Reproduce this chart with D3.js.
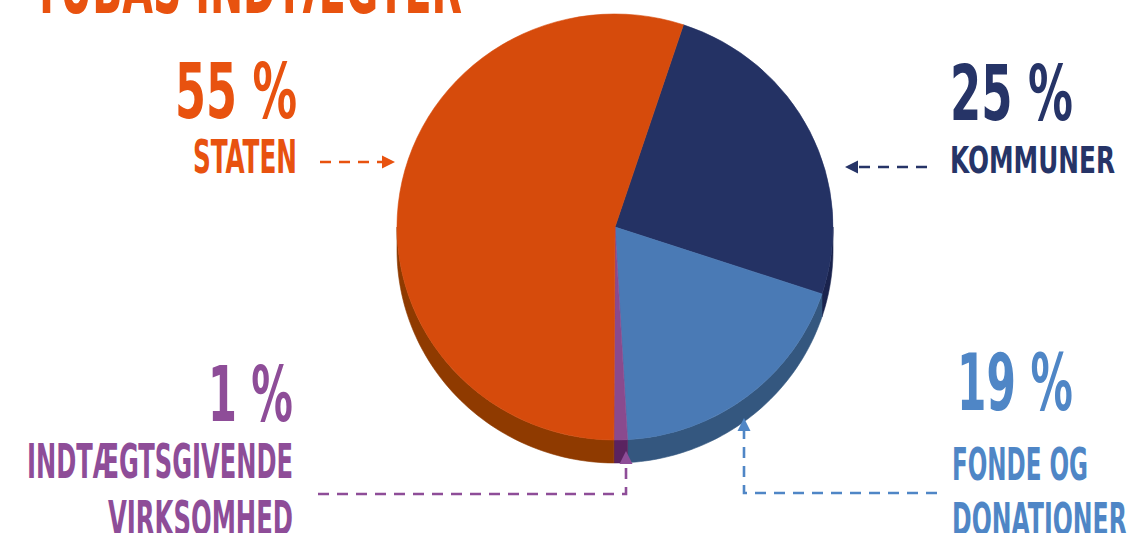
<!DOCTYPE html>
<html>
<head>
<meta charset="utf-8">
<script src="https://cdn.jsdelivr.net/npm/d3@7"></script>
<style>
  html, body { margin: 0; padding: 0; background: #fff; }
  svg { display: block; }
  text { font-family: "Liberation Sans Narrow", "DejaVu Sans Condensed", "Roboto", sans-serif; font-weight: bold; }
</style>
</head>
<body>
<svg id="chart" width="1131" height="533"></svg>
<script>
document.addEventListener("DOMContentLoaded", function() {

    // Data
    const title = "TUBAS INDTÆGTER";
    const categories = ["Kommuner", "Fonde og donationer", "Indtægtsgivende virksomhed", "Staten"];
    const shares = [25, 19, 1, 55];
    const valueLabels = ["25 %", "19 %", "1 %", "55 %"];
    const nameLabels = [["KOMMUNER"], ["FONDE OG", "DONATIONER"], ["INDTÆGTSGIVENDE", "VIRKSOMHED"], ["STATEN"]];

    // Display settings
    const width = 1131, height = 533;
    const cx = 615, cy = 227, rx = 218, ry = 213, depth = 23;
    const startDeg = 18.3;
    const topColors  = ["#243264", "#4a7ab5", "#8a4a8e", "#d64b0c"];
    const sideColors = ["#1a234d", "#34577f", "#5a2360", "#8f3a00"];
    const textColors = ["#263467", "#4f86c6", "#8e4d98", "#e8520f"];

    // Label layout (left x, width, baseline, font size)
    const labelLayout = [
        { value: {x: 950, w: 123, y: 120, size: 76}, names: [{x: 950, w: 165, y: 173, size: 37}] },
        { value: {x: 957, w: 116, y: 410, size: 78}, names: [{x: 952, w: 136, y: 480, size: 45}, {x: 952, w: 175, y: 535, size: 45}] },
        { value: {x: 208, w: 85, y: 421, size: 76}, names: [{x: 27, w: 266, y: 478, size: 48}, {x: 108, w: 185, y: 535, size: 48}] },
        { value: {x: 175, w: 122, y: 118, size: 76}, names: [{x: 193, w: 104, y: 173, size: 46}] }
    ];
    // Arrow paths: lists of [x, y], last point is the tip
    const arrowLayout = [
        [[927, 167], [845, 167]],
        [[937, 493], [744, 493], [744, 418]],
        [[318, 494], [626, 494], [626, 451]],
        [[320, 162], [395, 162]]
    ];

    const svg = d3.select("#chart");

    ////////// Pie //////////
    const pie = d3.pie().sort(null).value(d => d)
        .startAngle(startDeg * Math.PI / 180)
        .endAngle(startDeg * Math.PI / 180 + 2 * Math.PI);
    const arcs = pie(shares);

    const ex = a => cx + rx * Math.sin(a);
    const ey = a => cy - ry * Math.cos(a);

    // Side walls (front half only)
    const sideG = svg.append("g");
    arcs.forEach((d, i) => {
        [[Math.PI / 2, 3 * Math.PI / 2], [5 * Math.PI / 2, 7 * Math.PI / 2]].forEach(([lo, hi]) => {
            const a0 = Math.max(d.startAngle, lo), a1 = Math.min(d.endAngle, hi);
            if (a1 <= a0) return;
            const steps = d3.range(0, 61).map(k => a0 + (a1 - a0) * k / 60);
            const topEdge = steps.map(a => [ex(a), ey(a)]);
            const botEdge = steps.slice().reverse().map(a => [ex(a), ey(a) + depth]);
            sideG.append("path")
                .attr("d", d3.line()(topEdge.concat(botEdge)) + "Z")
                .attr("fill", sideColors[i])
                .attr("stroke", sideColors[i])
                .attr("stroke-width", 0.6);
        });
    });

    // Top surface
    const arc = d3.arc().innerRadius(0).outerRadius(rx);
    svg.append("g")
        .attr("transform", `translate(${cx},${cy}) scale(1,${ry / rx})`)
        .selectAll("path")
        .data(arcs)
        .join("path")
        .attr("d", arc)
        .attr("fill", (d, i) => topColors[i])
        .attr("stroke", (d, i) => topColors[i])
        .attr("stroke-width", 0.6);

    ////////// Title //////////
    svg.append("text")
        .attr("x", 33)
        .attr("y", 13)
        .attr("textLength", 429)
        .attr("lengthAdjust", "spacingAndGlyphs")
        .style("font-size", "76px")
        .attr("fill", "#e8520f")
        .text(title);

    ////////// Labels //////////
    categories.forEach((c, i) => {
        const lay = labelLayout[i];
        svg.append("text")
            .attr("x", lay.value.x)
            .attr("y", lay.value.y)
            .attr("textLength", lay.value.w)
            .attr("lengthAdjust", "spacingAndGlyphs")
            .style("font-size", lay.value.size + "px")
            .attr("fill", textColors[i])
            .text(valueLabels[i]);
        nameLabels[i].forEach((line, j) => {
            const l = lay.names[j];
            svg.append("text")
                .attr("x", l.x)
                .attr("y", l.y)
                .attr("textLength", l.w)
                .attr("lengthAdjust", "spacingAndGlyphs")
                .style("font-size", l.size + "px")
                .attr("fill", textColors[i])
                .text(line);
        });
    });

    ////////// Arrows //////////
    arrowLayout.forEach((pts, i) => {
        const tip = pts[pts.length - 1], prev = pts[pts.length - 2];
        const ang = Math.atan2(tip[1] - prev[1], tip[0] - prev[0]);
        const headLen = 13, headW = 6.5;
        const base = [tip[0] - headLen * Math.cos(ang), tip[1] - headLen * Math.sin(ang)];
        const linePts = pts.slice(0, -1).concat([base]);
        svg.append("path")
            .attr("d", d3.line()(linePts))
            .attr("fill", "none")
            .attr("stroke", textColors[i])
            .attr("stroke-width", 2.6)
            .attr("stroke-dasharray", "11 8");
        const nx = -Math.sin(ang), ny = Math.cos(ang);
        svg.append("path")
            .attr("d", d3.line()([tip, [base[0] + nx * headW, base[1] + ny * headW], [base[0] - nx * headW, base[1] - ny * headW]]) + "Z")
            .attr("fill", textColors[i]);
    });
});
</script>
</body>
</html>
